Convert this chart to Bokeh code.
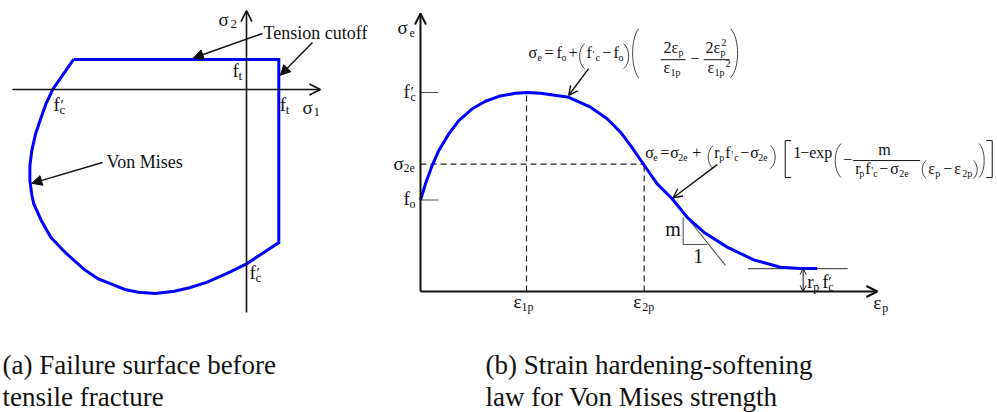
from bokeh.plotting import figure
from bokeh.layouts import row
from bokeh.models import Range1d, Arrow, OpenHead, NormalHead, ColumnDataSource
from bokeh.embed import file_html
from bokeh.resources import INLINE
from bokeh.core.properties import value

SERIF = "Liberation Serif"
BLUE = "#0000ff"
INK = "#111111"
GREY = "#555555"

# ---------------- (a) plane-stress failure surface, stresses in units of f'c
FC = 1.0    # compressive strength f'c
FT = 0.17   # tensile strength f_t (tension cutoff)
# Von Mises arc, from the top cutoff round to the right-hand cutoff
vm_s1 = [-0.91, -1.02, -1.055, -1.08, -1.11, -1.13, -1.14, -1.14, -1.13, -1.12,
         -1.08, -1.03, -0.95, -0.85, -0.78, -0.71, -0.64, -0.57, -0.48, -0.38,
         -0.30, -0.21, -0.105, 0.0, 0.085, 0.17]
vm_s2 = [0.17, 0.0, -0.08, -0.155, -0.25, -0.345, -0.43, -0.515, -0.595, -0.645,
         -0.74, -0.835, -0.925, -1.02, -1.07, -1.10, -1.13, -1.145, -1.153, -1.14,
         -1.12, -1.09, -1.04, -0.985, -0.925, -0.865]

# ---------------- (b) strain hardening-softening law, sigma_e in units of f'c
EPS_1P = 1.0
EPS_2P = 2.11
F_O = 0.46
F_C = 1.0
SIG_2E = 0.64
RP_FC = 0.115
law_eps = [0.0, 0.047, 0.11, 0.173, 0.267, 0.361, 0.488, 0.613, 0.739, 0.896, 1.007,
           1.132, 1.399, 1.604, 1.761, 1.887, 1.981, 2.107, 2.233, 2.374, 2.516,
           2.673, 2.893, 3.144, 3.396, 3.585, 3.742]
law_sig = [0.46, 0.541, 0.633, 0.709, 0.792, 0.859, 0.918, 0.956, 0.981, 0.996, 1.0,
           0.996, 0.976, 0.926, 0.868, 0.801, 0.734, 0.637, 0.541, 0.466, 0.373,
           0.298, 0.223, 0.159, 0.122, 0.115, 0.115]
tangent_eps = [2.375, 2.877]
tangent_sig = [0.466, 0.131]
slope_eps = [2.478, 2.478, 2.705]
slope_sig = [0.373, 0.236, 0.236]
plateau_eps = [3.09, 4.03]
RP_ARROW_EPS = 3.61

# ---------------- page geometry: pixels per unit and origin of each panel
H = 412
A_W, A_KX, A_KY, A_OX, A_OY = 385, 190.0, 177.0, 246.0, 89.0
B_W, B_KX, B_KY, B_OX, B_OY = 612, 106.0, 199.0, 35.0, 291.0
BASELINE_LIFT = 0.32   # text box bottom sits this far (in em) below the glyph baseline


def panel(w, kx, ky, ox, oy):
    p = figure(width=w, height=H, output_backend="svg", toolbar_location=None,
               x_range=Range1d(-ox / kx, (w - ox) / kx),
               y_range=Range1d((oy - H) / ky, oy / ky),
               x_axis_location=None, y_axis_location=None,
               min_border=0, outline_line_color=None,
               background_fill_color="white", border_fill_color="white")
    p.grid.visible = False
    return p


class Writer:
    """Places text pieces and small drawn glyphs at pixel offsets from data anchors."""

    def __init__(self, p, kx, ky):
        self.p, self.kx, self.ky = p, kx, ky
        self.cols = dict(x=[], y=[], text=[], size=[])

    def at(self, ax, ay, dx, dy):
        return ax + dx / self.kx, ay - dy / self.ky

    def put(self, ax, ay, pieces):
        for t, dx, dy, s in pieces:
            x, y = self.at(ax, ay, dx, dy - BASELINE_LIFT * s)
            self.cols["x"].append(x)
            self.cols["y"].append(y)
            self.cols["text"].append(t)
            self.cols["size"].append(f"{s}px")

    def paren(self, ax, ay, x0, x1, top, bot, opening=True, color="#444444"):
        # a bracket curve drawn as a cubic Bezier
        xe, xm = (x1, x0) if opening else (x0, x1)
        xc = xe + (xm - xe) / 0.75
        h = bot - top
        p0 = self.at(ax, ay, xe, top)
        p1 = self.at(ax, ay, xe, bot)
        c0 = self.at(ax, ay, xc, top + 0.2 * h)
        c1 = self.at(ax, ay, xc, bot - 0.2 * h)
        self.p.bezier(x0=p0[0], y0=p0[1], x1=p1[0], y1=p1[1], cx0=c0[0], cy0=c0[1],
                      cx1=c1[0], cy1=c1[1], line_color=color, line_width=1)

    def square(self, ax, ay, x0, x1, top, bot, opening=True):
        xe, xs = (x1, x0) if opening else (x0, x1)
        pts = [self.at(ax, ay, xe, top), self.at(ax, ay, xs, top),
               self.at(ax, ay, xs, bot), self.at(ax, ay, xe, bot)]
        self.p.line([q[0] for q in pts], [q[1] for q in pts], line_color=INK, line_width=1)

    def bar(self, ax, ay, x0, x1, dy):
        a = self.at(ax, ay, x0, dy)
        b = self.at(ax, ay, x1, dy)
        self.p.line([a[0], b[0]], [a[1], b[1]], line_color=INK, line_width=1)

    def draw(self):
        self.p.text(x="x", y="y", text="text", source=ColumnDataSource(self.cols),
                    text_font_size="size", text_font=value(SERIF), text_color=INK,
                    text_baseline="alphabetic", text_align="left")


def arrow(p, x0, y0, x1, y1, head, width=1.6):
    p.add_layout(Arrow(end=head, x_start=x0, y_start=y0, x_end=x1, y_end=y1,
                       line_color=INK, line_width=width))


# ================= panel (a)
pa = panel(A_W, A_KX, A_KY, A_OX, A_OY)
wa = Writer(pa, A_KX, A_KY)

arrow(pa, -1.232, 0, 0.389, 0, OpenHead(size=11, line_color=INK, line_width=1.6), 1.6)
arrow(pa, 0, -1.26, 0, 0.446, OpenHead(size=11, line_color=INK, line_width=1.6), 1.6)

outline_s1 = vm_s1 + [FT, vm_s1[0]]
outline_s2 = vm_s2 + [FT, FT]
pa.line(outline_s1, outline_s2, line_color=BLUE, line_width=3, line_join="miter")

LAB, SUB = 19, 13
wa.put(0, 0.446, [("σ", -28, 15, LAB), ("2", -16, 18, SUB)])
wa.put(0, FT, [("f", -14, 17, LAB), ("t", -8, 20, SUB)])
wa.put(FT, 0, [("f", 1, 21, LAB), ("t", 7, 24, SUB)])
wa.put(0.389, 0, [("σ", -18, 24, LAB), ("1", -7, 27, SUB)])
wa.put(-FC, 0, [("f", -3, 21, LAB), ("′", 4, 20, 15), ("c", 3, 24, SUB)])
wa.put(0, -FC, [("f", 3, 12, LAB), ("′", 10, 11, 15), ("c", 9, 15, SUB)])
wa.put(0, 0, [("Tension cutoff", 17, -51, 18), ("Von Mises", -140, 78, 18)])

head = lambda: NormalHead(size=10, fill_color=INK, line_color=INK, line_width=1)
tx, ty = wa.at(0, 0, 16, -56)
arrow(pa, tx, ty, -0.28, FT + 0.008, head(), 1.4)
tx, ty = wa.at(0, 0, 66, -47)
arrow(pa, tx, ty, FT + 0.008, 0.08, head(), 1.4)
tx, ty = wa.at(0, 0, -144, 73)
arrow(pa, tx, ty, vm_s1[7] + 0.01, vm_s2[7] - 0.015, head(), 1.4)

wa.put(0, 0, [("(a) Failure surface before", -244, 284, 27),
              ("tensile fracture", -244, 316, 27)])
wa.draw()

# ================= panel (b)
pb = panel(B_W, B_KX, B_KY, B_OX, B_OY)
wb = Writer(pb, B_KX, B_KY)

pb.multi_line([[0, EPS_2P], [EPS_1P, EPS_1P], [EPS_2P, EPS_2P]],
              [[SIG_2E, SIG_2E], [0, F_C], [0, SIG_2E]],
              line_color="#222222", line_width=1.2, line_dash="6 4")
pb.multi_line([[0, 0.17], [0, 0.17], plateau_eps, tangent_eps],
              [[F_C, F_C], [F_O, F_O], [RP_FC, RP_FC], tangent_sig],
              line_color=GREY, line_width=1.1)
pb.line(slope_eps, slope_sig, line_color=GREY, line_width=1.1)

arrow(pb, 0, 0, 0, 1.397, OpenHead(size=11, line_color=INK, line_width=2), 2)
arrow(pb, 0, 0, 4.31, 0, OpenHead(size=11, line_color=INK, line_width=2), 2)

pb.line(law_eps, law_sig, line_color=BLUE, line_width=3)

pb.add_layout(Arrow(start=OpenHead(size=6, line_color=INK, line_width=1),
                    end=OpenHead(size=6, line_color=INK, line_width=1),
                    x_start=RP_ARROW_EPS, y_start=0, x_end=RP_ARROW_EPS, y_end=RP_FC,
                    line_color=INK, line_width=1))

thin = lambda: OpenHead(size=9, line_color=INK, line_width=1.4)
sx, sy = wb.at(1.02, 1.175, 60, 11)
arrow(pb, sx, sy, law_eps[12], law_sig[12] + 0.01, thin(), 1.4)
sx, sy = wb.at(2.12, 0.673, 72, 7)
arrow(pb, sx, sy, law_eps[19] + 0.01, law_sig[19] + 0.005, thin(), 1.4)

L2, S2 = 19, 12
wb.put(0, 1.397, [("σ", -23, 20, L2), ("e", -11, 23, S2)])
wb.put(0, F_C, [("f", -17, 5, L2), ("′", -10, 4, 15), ("c", -10, 8, S2)])
wb.put(0, SIG_2E, [("σ", -27, 5, L2), ("2e", -17, 8, S2)])
wb.put(0, F_O, [("f", -17, 5, L2), ("o", -11, 8, S2)])
wb.put(EPS_1P, 0, [("ε", -13, 16, L2), ("1p", -5, 19, S2)])
wb.put(EPS_2P, 0, [("ε", -11, 16, L2), ("2p", -2, 19, S2)])
wb.put(4.31, 0, [("ε", -4, 17, L2), ("p", 5, 20, S2)])
wb.put(RP_ARROW_EPS, 0, [("r", 4, -4, L2), ("p", 10, -1, S2), ("f", 19, -4, L2),
                         ("′", 25, -5, 15), ("c", 25, -1, S2)])
wb.put(slope_eps[1], slope_sig[1], [("m", -18, -9, 20), ("1", 10, 18, 20)])

# hardening branch formula
M, S = 16, 10
F1 = (1.02, 1.175)
wb.put(*F1, [("σ", 0, 0, M), ("e", 9, 3, S), ("=", 16, 0, M), ("f", 28, 0, M), ("o", 33, 3, S),
             ("+", 40, 0, M), ("f", 58, 0, M), ("'", 64, 0, 11), ("c", 67, 3, S),
             ("−", 74, 0, M), ("f", 85, 0, M), ("o", 90, 3, S),
             ("2", 135, -5, M), ("ε", 143, -5, M), ("p", 150, -2, S),
             ("ε", 135, 15, M), ("1p", 142, 18, S),
             ("−", 162, 6, M),
             ("2", 177, -5, M), ("ε", 185, -5, M), ("p", 192, -2, S), ("2", 193, -12, S),
             ("ε", 179, 15, M), ("1p", 186, 18, S), ("2", 197, 9, S)])
wb.paren(*F1, 51, 56, -14, 11, True)
wb.paren(*F1, 95, 100, -14, 11, False)
wb.paren(*F1, 104, 110, -29, 20, True)
wb.paren(*F1, 202, 209, -29, 20, False)
wb.bar(*F1, 132, 157, 2)
wb.bar(*F1, 175, 201, 2)

# softening branch formula
F2 = (2.12, 0.673)
wb.put(*F2, [("σ", 0, 0, M), ("e", 8, 3, S), ("=", 15, 0, M), ("σ", 25, 0, M), ("2e", 33, 3, S),
             ("+", 47, 0, M), ("r", 69, 0, M), ("p", 74, 3, S), ("f", 80, 0, M), ("'", 86, 0, 11),
             ("c", 89, 3, S), ("−", 95, 0, M), ("σ", 105, 0, M), ("2e", 113, 3, S),
             ("1", 148, 0, M), ("−", 155, 0, M), ("exp", 164, 0, M),
             ("−", 198, 7, M), ("m", 233, -3, M),
             ("r", 210, 16, M), ("p", 214, 19, S), ("f", 220, 16, M), ("'", 226, 16, 11),
             ("c", 228, 19, S), ("−", 234, 16, M), ("σ", 245, 16, M), ("2e", 254, 19, S),
             ("ε", 283, 16, M), ("p", 290, 19, S), ("−", 298, 16, M), ("ε", 309, 16, M),
             ("2p", 317, 19, S)])
wb.paren(*F2, 63, 68, -12, 11, True)
wb.paren(*F2, 125, 130, -12, 11, False)
wb.square(*F2, 140, 146, -17, 20, True)
wb.paren(*F2, 190, 196, -14, 20, True)
wb.bar(*F2, 208, 275, 3)
wb.paren(*F2, 277, 281, 3, 21, True)
wb.paren(*F2, 328, 332, 3, 21, False)
wb.paren(*F2, 334, 339, -14, 20, False)
wb.square(*F2, 341, 347, -17, 20, False)

wb.put(0, 0, [("(b) Strain hardening-softening", 65, 82, 27),
              ("law for Von Mises strength", 65, 114, 27)])
wb.draw()

layout = row(pa, pb)
open("out.html", "w").write(file_html(layout, INLINE))
